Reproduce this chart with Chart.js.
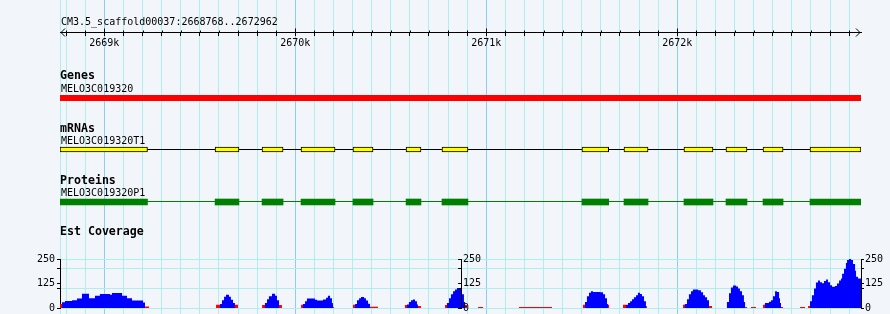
<!DOCTYPE html>
<html><head><meta charset="utf-8">
<script src="https://cdn.jsdelivr.net/npm/chart.js@4.4.1/dist/chart.umd.min.js"></script>
<style>
html,body{margin:0;padding:0;background:#f2f5fa;overflow:hidden;}
#wrap{position:relative;width:890px;height:314px;overflow:hidden;background:#f2f5fa;}
canvas{position:absolute;left:0;}
</style></head><body>
<div id="wrap">
<canvas id="main" width="890" height="314" style="top:0"></canvas>
<canvas id="cov" width="890" height="84" style="top:240px"></canvas>
<canvas id="covMid" width="890" height="84" style="top:240px"></canvas>
</div>
<script>
// ---------------- data ----------------
const regionName = 'CM3.5_scaffold00037';
const regionStart = 2668768;
const regionEnd = 2672962;
const rulerStep = 100;
const rulerMajor = [2669000, 2670000, 2671000, 2672000];
const rulerMajorLabels = ['2669k', '2670k', '2671k', '2672k'];
const trackNames = ['Genes', 'mRNAs', 'Proteins', 'Est Coverage'];
const featureNames = ['MELO3C019320', 'MELO3C019320T1', 'MELO3C019320P1'];
const geneSpan = [2668768, 2672962];
const exonStarts = [2668768, 2669580, 2669826, 2670030, 2670302, 2670580, 2670768, 2671501, 2671721, 2672035, 2672255, 2672449, 2672695];
const exonEnds   = [2669226, 2669705, 2669936, 2670208, 2670407, 2670658, 2670904, 2671641, 2671847, 2672187, 2672365, 2672554, 2672962];

// EST coverage (step profile: value holds until next position)
const covPos = [
  2668778,2668794,2668831,2668857,2668883,2668920,2668951,2668977,2669030,2669040,2669093,2669119,2669145,2669203,2669213,
  2669606,2669616,2669627,2669637,2669653,2669663,2669674,2669684,
  2669841,2669852,2669862,2669878,2669894,2669904,2669915,
  2670040,2670051,2670061,2670103,2670114,2670145,2670161,2670171,2670182,2670192,2670197,
  2670313,2670323,2670334,2670344,2670360,2670370,2670381,2670391,
  2670585,2670595,2670606,2670616,2670627,2670637,2670642,
  2670794,2670805,2670815,2670826,2670836,2670847,2670862,2670873,2670883,2670889,
  2671517,2671527,2671538,2671548,2671559,2671595,2671611,2671622,2671632,2671637,
  2671732,2671742,2671753,2671763,2671773,2671784,2671794,2671805,2671815,2671826,2671836,
  2672040,2672051,2672061,2672072,2672082,2672109,2672124,2672135,2672145,2672156,2672166,
  2672260,2672271,2672281,2672292,2672308,2672318,2672328,2672339,2672349,2672355,
  2672459,2672480,2672491,2672501,2672512,2672522,2672533,2672538,2672543,
  2672695,2672705,2672716,2672726,2672737,2672747,2672758,2672768,2672779,2672789,2672800,2672810,2672826,2672836,2672847,2672857,2672863,2672873,2672883,2672889,2672899,2672910,2672920,2672931,2672936,2672946,2672962
];
const covBlue = [
  29,36,40,48,73,50,62,72,68,76,62,50,38,28,0,
  20,40,58,68,58,42,25,0,
  25,45,60,73,62,40,0,
  20,35,48,42,38,44,52,63,50,25,0,
  20,40,50,56,50,38,22,0,
  18,30,40,43,35,18,0,
  25,50,70,85,95,102,98,70,30,0,
  30,60,78,85,82,80,70,50,20,0,
  15,25,35,45,55,65,78,72,60,35,0,
  20,45,70,85,94,90,80,65,55,40,0,
  30,75,105,115,110,100,85,65,30,0,
  25,32,40,60,85,82,50,25,0,
  35,65,100,130,140,132,126,138,145,132,116,108,112,125,140,150,175,200,230,245,250,245,225,190,160,150,150
];
// low-coverage (red) profile
const lowPos = [
  2668768,2669213,2669234,
  2669585,2669700,
  2669826,2669930,
  2670030,2670197,2670203,
  2670302,2670391,2670433,
  2670574,2670642,2670658,
  2670784,2670899,
  2670957,2670983,
  2671171,2671344,
  2671506,2671643,
  2671716,2671831,2671841,
  2672030,2672166,2672182,
  2672355,2672365,
  2672386,2672412,
  2672449,2672543,2672554,
  2672643,2672669,
  2672685,2672962
];
const covRed = [
  20,8,0,
  16,0,
  15,0,
  16,5,0,
  16,6,0,
  15,10,0,
  15,0,
  5,0,
  5,0,
  16,0,
  16,10,0,
  16,10,0,
  5,0,
  5,0,
  16,5,0,
  5,0,
  10,10
];
const covTickValues = [0, 100, 125, 200, 250];
const covTickLabels = ['0', '', '125', '', '250'];
const covSplit = 2670868;

// ---------------- layout / style ----------------
const LEFT = 60, RIGHT_PAD = 29, W = 890;
const ROW = {ruler: 32, gene: 98, mrna: 149.5, prot: 202, protLine: 201.5};
const TEXT_Y = {title: 25, tracks: [79, 131.5, 184, 235], names: [91.5, 144, 195.5]};
const MINOR = '#afeeee', MAJOR = '#87cefa', CLEAR = 'rgba(0,0,0,0)';
const MONO = '"DejaVu Sans Mono", "Liberation Mono", monospace';

Chart.defaults.font.family = MONO;
Chart.defaults.font.size = 10;
Chart.defaults.color = '#000';

// Steps: a position's value holds until the next position ('before' in Chart.js terms)
const STEP = 'before';

const textPlugin = {
  id: 'gbText',
  afterDraw(chart) {
    const {ctx, chartArea: a, scales: {x, y}} = chart;
    ctx.save();
    ctx.fillStyle = '#000';
    ctx.textBaseline = 'alphabetic';
    ctx.textAlign = 'left';
    ctx.font = '10px ' + MONO;
    ctx.fillText(regionName + ':' + regionStart + '..' + regionEnd, a.left + 1, TEXT_Y.title);
    featureNames.forEach((n, i) => ctx.fillText(n, a.left + 1, TEXT_Y.names[i]));
    ctx.font = 'bold 11.6px ' + MONO;
    trackNames.forEach((n, i) => ctx.fillText(n, a.left, TEXT_Y.tracks[i]));
    // ruler arrows and upward tick parts
    const ry = Math.round(y.getPixelForValue(ROW.ruler)) + 0.5;
    const xl = x.getPixelForValue(regionStart), xr = x.getPixelForValue(regionEnd) - 1;
    ctx.strokeStyle = '#000';
    ctx.lineWidth = 1;
    ctx.beginPath();
    ctx.moveTo(xl + 5, ry - 4); ctx.lineTo(xl + 1, ry); ctx.lineTo(xl + 5, ry + 4);
    ctx.moveTo(xr - 4, ry - 4); ctx.lineTo(xr, ry); ctx.lineTo(xr - 4, ry + 4);
    x.ticks.forEach(t => {
      if (t.value === regionStart || t.value === regionEnd) return;
      const px = Math.round(x.getPixelForValue(t.value)) + 0.5;
      const up = rulerMajor.includes(t.value) ? 4 : 2;
      ctx.moveTo(px, ry - up); ctx.lineTo(px, ry);
    });
    ctx.stroke();
    ctx.restore();
  }
};

new Chart(document.getElementById('main'), {
  type: 'line',
  data: {
    datasets: [
      {type: 'bar', label: 'mRNA exons', indexAxis: 'y', grouped: false, order: 0,
       data: exonStarts.map((s, i) => ({x: [s, exonEnds[i]], y: ROW.mrna})),
       backgroundColor: '#ffff00', borderColor: '#000', borderWidth: 1, borderSkipped: false, barThickness: 5},
      {type: 'bar', label: 'Proteins', indexAxis: 'y', grouped: false, order: 0,
       data: exonStarts.map((s, i) => ({x: [s, exonEnds[i]], y: ROW.prot})),
       backgroundColor: '#008000', borderWidth: 0, borderSkipped: false, barThickness: 6},
      {label: 'Genes', order: 1,
       data: [{x: geneSpan[0], y: ROW.gene}, {x: geneSpan[1], y: ROW.gene}],
       borderColor: '#ff0000', borderWidth: 6, pointRadius: 0, borderCapStyle: 'butt'},
      {label: 'mRNA introns', order: 2,
       data: [{x: exonStarts[0], y: ROW.mrna}, {x: exonEnds[exonEnds.length - 1], y: ROW.mrna}],
       borderColor: '#000', borderWidth: 1, pointRadius: 0},
      {label: 'Protein introns', order: 2,
       data: [{x: exonStarts[0], y: ROW.protLine}, {x: exonEnds[exonEnds.length - 1], y: ROW.protLine}],
       borderColor: '#008000', borderWidth: 1, pointRadius: 0}
    ]
  },
  options: {
    responsive: false, animation: false, events: [], devicePixelRatio: 1,
    layout: {padding: {left: LEFT, right: RIGHT_PAD, top: 0, bottom: 0}},
    plugins: {legend: {display: false}, tooltip: {enabled: false}, title: {display: false}},
    scales: {
      x: {
        type: 'linear', min: regionStart, max: regionEnd, position: {y: ROW.ruler},
        afterBuildTicks: s => {
          const t = [{value: regionStart}];
          for (let v = Math.ceil(regionStart / rulerStep) * rulerStep; v < regionEnd; v += rulerStep) t.push({value: v});
          t.push({value: regionEnd});
          s.ticks = t;
        },
        ticks: {autoSkip: false, maxRotation: 0, padding: 2,
          callback: v => { const i = rulerMajor.indexOf(v); return i >= 0 ? rulerMajorLabels[i] : ''; }},
        grid: {
          color: c => { const v = c.tick && c.tick.value; if (v === regionEnd) return CLEAR; return rulerMajor.includes(v) ? MAJOR : MINOR; },
          tickColor: c => { const v = c.tick && c.tick.value; return (v === regionStart || v === regionEnd) ? CLEAR : '#000'; },
          tickLength: 3, lineWidth: 1
        },
        border: {color: '#000', width: 1}
      },
      y: {type: 'linear', min: 0, max: 314, reverse: true, display: false, offset: false, grid: {offset: false}}
    }
  },
  plugins: [textPlugin]
});

const covYAxis = (extra) => Object.assign({
  type: 'linear', min: 0, max: 250,
  afterBuildTicks: s => { s.ticks = covTickValues.map(v => ({value: v})); },
  ticks: {autoSkip: false, padding: 2, callback: v => covTickLabels[covTickValues.indexOf(v)]},
  border: {color: '#000', width: 1}
}, extra);

new Chart(document.getElementById('cov'), {
  type: 'line',
  data: {
    datasets: [
      {label: 'Est Coverage', order: 0, data: covPos.map((p, i) => ({x: p, y: covBlue[i]})),
       stepped: STEP, fill: 'origin', backgroundColor: '#0000ff', borderColor: CLEAR, borderWidth: 0, pointRadius: 0},
      {label: 'Low coverage', order: 1, data: lowPos.map((p, i) => ({x: p, y: covRed[i]})),
       stepped: STEP, fill: 'origin', backgroundColor: '#ff0000', borderColor: CLEAR, borderWidth: 0, pointRadius: 0}
    ]
  },
  options: {
    responsive: false, animation: false, events: [], devicePixelRatio: 1,
    layout: {padding: {left: 0, right: 0, top: 19, bottom: 16}},
    plugins: {legend: {display: false}, tooltip: {enabled: false}},
    scales: {
      x: {type: 'linear', min: regionStart, max: regionEnd, display: false},
      y: covYAxis({position: 'left', afterFit: s => { s.width = LEFT; },
        grid: {color: c => (c.tick && c.tick.value === 125) ? CLEAR : MINOR, tickColor: '#000', tickLength: 3}}),
      y2: covYAxis({position: 'right', afterFit: s => { s.width = RIGHT_PAD; },
        ticks: {autoSkip: false, padding: 1, callback: v => covTickLabels[covTickValues.indexOf(v)]},
        grid: {drawOnChartArea: false, tickColor: '#000', tickLength: 3}})
    }
  }
});

const pxPerBp = (W - LEFT - RIGHT_PAD) / (regionEnd - regionStart);
new Chart(document.getElementById('covMid'), {
  type: 'line',
  data: {datasets: []},
  options: {
    responsive: false, animation: false, events: [], devicePixelRatio: 1,
    layout: {padding: {left: 0, right: RIGHT_PAD, top: 19, bottom: 16}},
    plugins: {legend: {display: false}, tooltip: {enabled: false}},
    scales: {
      x: {type: 'linear', min: covSplit, max: regionEnd, display: false},
      y: covYAxis({position: 'left', afterFit: s => { s.width = LEFT + (covSplit - regionStart) * pxPerBp; },
        ticks: {autoSkip: false, mirror: true, padding: 2, callback: v => covTickLabels[covTickValues.indexOf(v)]},
        grid: {drawOnChartArea: false, tickColor: '#000', tickLength: 3}})
    }
  }
});
</script>
</body></html>
